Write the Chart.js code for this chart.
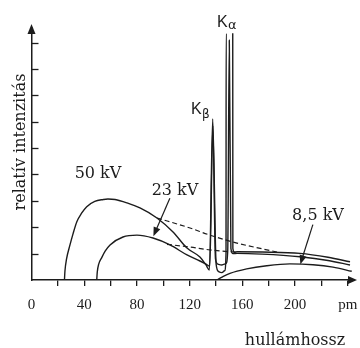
<!DOCTYPE html>
<html>
<head>
<meta charset="utf-8">
<script src="https://cdn.jsdelivr.net/npm/chart.js@4.4.0/dist/chart.umd.min.js"></script>
<style>
  html, body { margin: 0; padding: 0; background: #fff; }
  #wrap { width: 360px; height: 348px; }
</style>
</head>
<body>
<div id="wrap"><canvas id="myChart" width="360" height="348"></canvas></div>
<script>
// hullámhossz (pm) / relatív intenzitás
var wave50 = [25, 25.4, 26.6, 29.2, 31.5, 34.4, 38, 41.9, 48, 54.5, 58, 63.4, 72.5, 82.3, 95.2, 107.4, 118, 127.8, 132.4, 135, 137.5, 140.1, 142, 144.5, 146.5, 147.6, 147.7, 152.7, 152.8, 154, 156, 175, 203.7, 225, 241.7];
var int50  = [0, 0.35, 0.8, 1.33, 1.75, 2.21, 2.53, 2.78, 2.98, 3.05, 3.07, 3.05, 2.92, 2.73, 2.35, 1.82, 1.21, 0.87, 0.57, 0.38, 6.1, 0.6, 0.32, 0.28, 0.35, 1.0, 9.35, 9.35, 1.2, 1.05, 1.07, 1.06, 1.01, 0.86, 0.69];

var wave23 = [49.5, 49.9, 51, 53.3, 56, 59.6, 69.4, 80, 92.2, 105.1, 118, 127.8, 132.4, 135.3, 137.6, 139.6, 141.5, 144.5, 147.5, 148.9, 150.1, 151.3, 152.9, 156, 175, 203.7, 225, 241.7];
var int23  = [0, 0.3, 0.6, 0.85, 1.1, 1.33, 1.63, 1.70, 1.59, 1.33, 0.95, 0.72, 0.6, 0.52, 5.85, 0.8, 0.6, 0.57, 0.62, 1.1, 9.09, 1.2, 1.0, 1.01, 0.98, 0.88, 0.74, 0.57];

var wave85 = [140.7, 145, 150.6, 163.3, 178.5, 196.1, 213.6, 228.8, 243];
var int85  = [0, 0.12, 0.25, 0.42, 0.54, 0.61, 0.58, 0.49, 0.33];

// folytonos spektrum a vonalak alatt (szaggatott)
var waveDash50 = [95.2, 120.3, 135.4, 155.9, 186.3];
var intDash50  = [2.35, 1.97, 1.70, 1.40, 1.06];
var waveDash23 = [102.8, 120.3, 135.4, 155.9];
var intDash23  = [1.35, 1.25, 1.14, 1.05];

var xLabelTicks = [0, 40, 80, 120, 160, 200];
var xUnitTick = 240;
var xUnitLabel = 'pm';

var ink = '#1c1c1c';

function toPoints(xs, ys) {
    var pts = [];
    for (var i = 0; i < xs.length; i++) pts.push({ x: xs[i], y: ys[i] });
    return pts;
}

function lineSet(xs, ys, dashed) {
    return {
        data: toPoints(xs, ys),
        borderColor: ink,
        borderWidth: dashed ? 1.2 : 1.4,
        borderDash: dashed ? [5, 3] : [],
        pointRadius: 0,
        fill: false,
        cubicInterpolationMode: 'monotone',
        // the K-alpha spike of the 50 kV curve is left open at the top
        segment: {
            borderColor: function (c) {
                return (c.p0.parsed.y > 9.2 && c.p1.parsed.y > 9.2) ? 'rgba(0,0,0,0)' : ink;
            }
        }
    };
}

function arrow(ctx, x1, y1, x2, y2, size) {
    var a = Math.atan2(y2 - y1, x2 - x1);
    ctx.beginPath();
    ctx.moveTo(x1, y1);
    ctx.lineTo(x2 - Math.cos(a) * size * 0.8, y2 - Math.sin(a) * size * 0.8);
    ctx.stroke();
    ctx.beginPath();
    ctx.moveTo(x2, y2);
    ctx.lineTo(x2 - size * Math.cos(a) + size * 0.4 * Math.sin(a), y2 - size * Math.sin(a) - size * 0.4 * Math.cos(a));
    ctx.lineTo(x2 - size * Math.cos(a) - size * 0.4 * Math.sin(a), y2 - size * Math.sin(a) + size * 0.4 * Math.cos(a));
    ctx.closePath();
    ctx.fill();
}

var decor = {
    id: 'decor',
    afterDraw: function (chart) {
        var ctx = chart.ctx;
        var xs = chart.scales.x, ys = chart.scales.y;
        var area = chart.chartArea;
        ctx.save();
        ctx.strokeStyle = ink;
        ctx.fillStyle = ink;
        ctx.lineWidth = 1.3;

        // y ticks point inwards
        ys.ticks.forEach(function (t) {
            if (t.value === 0) return;
            var py = Math.round(ys.getPixelForValue(t.value)) + 0.5;
            ctx.beginPath();
            ctx.moveTo(area.left, py);
            ctx.lineTo(area.left + 7, py);
            ctx.stroke();
        });

        // axis arrow heads
        ctx.beginPath();
        ctx.moveTo(area.right + 5, area.bottom);
        ctx.lineTo(area.right - 4, area.bottom - 4);
        ctx.lineTo(area.right - 4, area.bottom + 4);
        ctx.closePath();
        ctx.fill();
        ctx.beginPath();
        ctx.moveTo(area.left, area.top - 4);
        ctx.lineTo(area.left - 4, area.top + 6);
        ctx.lineTo(area.left + 4, area.top + 6);
        ctx.closePath();
        ctx.fill();

        // axis titles
        ctx.font = '16px "DejaVu Serif"';
        ctx.textAlign = 'center';
        ctx.textBaseline = 'alphabetic';
        ctx.fillText('hullámhossz', 295, 345);
        ctx.save();
        ctx.translate(25, 142);
        ctx.rotate(-Math.PI / 2);
        ctx.fillText('relatív intenzitás', 0, 0);
        ctx.restore();

        // curve labels
        ctx.fillText('50 kV', 98, 178);
        ctx.fillText('23 kV', 175, 195);
        ctx.fillText('8,5 kV', 318, 220);

        ctx.lineWidth = 1.2;
        arrow(ctx, xs.getPixelForValue(105), ys.getPixelForValue(3.1),
                   xs.getPixelForValue(92.5), ys.getPixelForValue(1.66), 9);
        arrow(ctx, xs.getPixelForValue(213.5), ys.getPixelForValue(2.1),
                   xs.getPixelForValue(204), ys.getPixelForValue(0.6), 9);

        // characteristic lines
        ctx.textAlign = 'left';
        ctx.font = '16px "Liberation Sans"';
        ctx.fillText('K', 217, 27);
        ctx.fillText('K', 191, 114);
        ctx.font = '13px "DejaVu Sans"';
        ctx.fillText('α', 228, 29);
        ctx.font = '12px "DejaVu Sans"';
        ctx.fillText('β', 202, 118);
        ctx.restore();
    }
};

var ctx = document.getElementById('myChart');
var myChart = new Chart(ctx, {
    type: 'line',
    data: {
        datasets: [
            lineSet(wave50, int50, false),
            lineSet(wave23, int23, false),
            lineSet(wave85, int85, false),
            lineSet(waveDash50, intDash50, true),
            lineSet(waveDash23, intDash23, true)
        ]
    },
    options: {
        responsive: false,
        animation: false,
        layout: { padding: { left: 31.5, right: 8, top: 28, bottom: 0 } },
        plugins: { legend: { display: false }, tooltip: { enabled: false } },
        scales: {
            x: {
                type: 'linear',
                min: 0,
                max: 243.2,
                afterFit: function (scale) {
                    scale.height = 68;
                    // keep the plot area fixed, labels may overhang
                    scale.paddingLeft = 0;
                    scale.paddingRight = 0;
                },
                border: { display: true, color: ink, width: 1.5 },
                grid: {
                    drawOnChartArea: false,
                    tickLength: 6,
                    lineWidth: 1.3,
                    color: function (c) { return c.tick && c.tick.value === 0 ? 'rgba(0,0,0,0)' : ink; }
                },
                ticks: {
                    stepSize: 20,
                    includeBounds: false,
                    autoSkip: false,
                    maxRotation: 0,
                    padding: 10,
                    color: ink,
                    font: { family: '"Liberation Serif"', size: 15 },
                    callback: function (v) {
                        if (v === xUnitTick) return xUnitLabel;
                        return xLabelTicks.indexOf(v) >= 0 ? String(v) : '';
                    }
                }
            },
            y: {
                min: 0,
                max: 9.55,
                afterFit: function (scale) { scale.width = 0; },
                border: { display: true, color: ink, width: 1.5 },
                grid: { display: false },
                ticks: { display: false, stepSize: 1, includeBounds: false }
            }
        }
    },
    plugins: [decor]
});
</script>
</body>
</html>
